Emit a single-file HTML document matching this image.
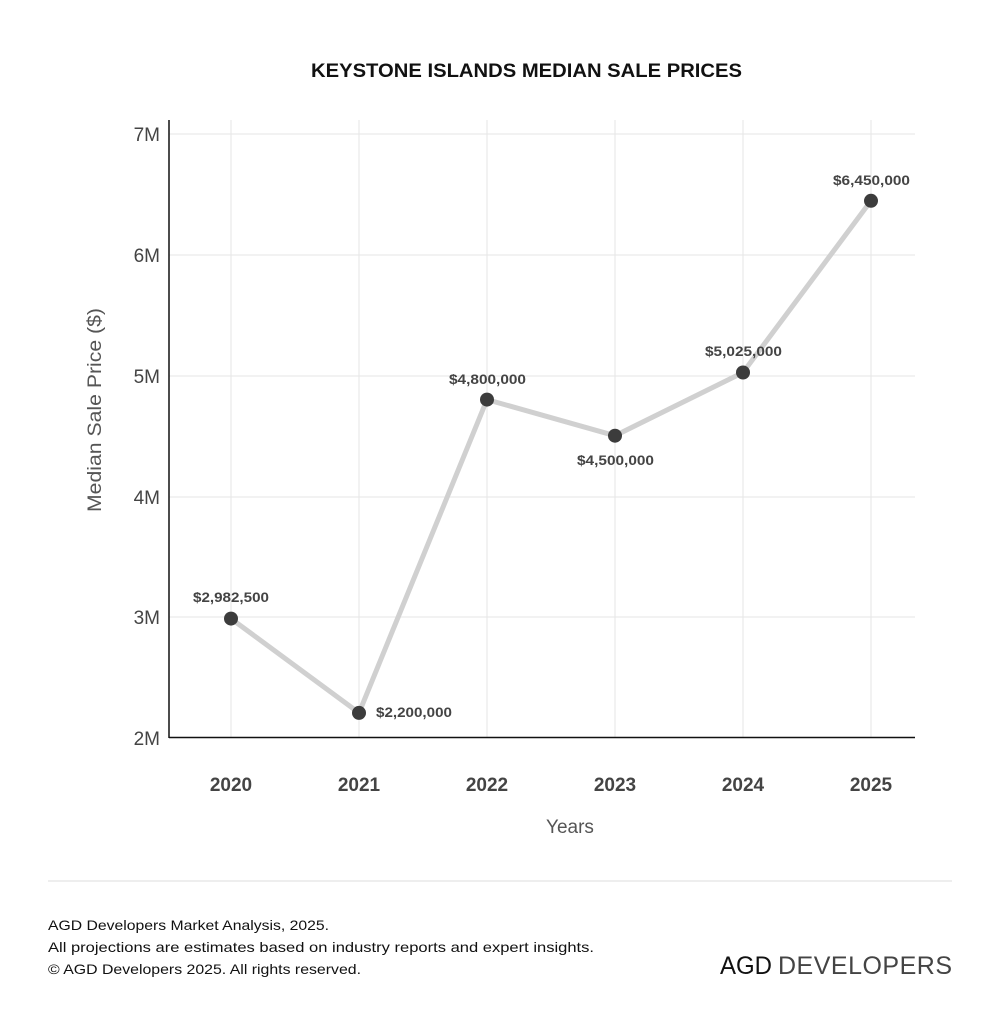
<!DOCTYPE html>
<html><head><meta charset="utf-8"><style>
html,body{margin:0;padding:0;background:#fff;}
body{width:999px;height:1024px;overflow:hidden;font-family:"Liberation Sans",sans-serif;}
</style></head><body>
<svg width="999" height="1024" xmlns="http://www.w3.org/2000/svg" font-family="Liberation Sans, sans-serif">
<text x="311" y="77" textLength="431" lengthAdjust="spacingAndGlyphs" font-size="19" font-weight="bold" fill="#111">KEYSTONE ISLANDS MEDIAN SALE PRICES</text>
<g stroke="#e6e6e6" stroke-width="1">
<line x1="169" y1="134" x2="915" y2="134"/><line x1="169" y1="255" x2="915" y2="255"/>
<line x1="169" y1="376" x2="915" y2="376"/><line x1="169" y1="497" x2="915" y2="497"/>
<line x1="169" y1="617" x2="915" y2="617"/>
<line x1="231" y1="120" x2="231" y2="737"/><line x1="359" y1="120" x2="359" y2="737"/>
<line x1="487" y1="120" x2="487" y2="737"/><line x1="615" y1="120" x2="615" y2="737"/>
<line x1="743" y1="120" x2="743" y2="737"/><line x1="871" y1="120" x2="871" y2="737"/>
</g>
<line x1="169" y1="120" x2="169" y2="738" stroke="#111" stroke-width="1.5"/>
<line x1="169" y1="737.5" x2="915" y2="737.5" stroke="#111" stroke-width="1.5"/>
<g font-size="19" fill="#444" text-anchor="end">
<text x="160" y="141">7M</text><text x="160" y="262">6M</text><text x="160" y="383">5M</text>
<text x="160" y="504">4M</text><text x="160" y="624">3M</text><text x="160" y="745">2M</text>
</g>
<g font-size="19" font-weight="bold" fill="#444" text-anchor="middle">
<text x="231" y="791">2020</text><text x="359" y="791">2021</text><text x="487" y="791">2022</text>
<text x="615" y="791">2023</text><text x="743" y="791">2024</text><text x="871" y="791">2025</text>
</g>
<text x="570" y="833" text-anchor="middle" font-size="19" fill="#555">Years</text>
<text transform="translate(101,410) rotate(-90)" text-anchor="middle" font-size="19" fill="#555" textLength="204" lengthAdjust="spacingAndGlyphs">Median Sale Price ($)</text>
<polyline points="231,618.6 359,712.9 487,399.6 615,435.7 743,372.5 871,200.8" fill="none" stroke="#d0d0d0" stroke-width="5" stroke-linejoin="round"/>
<g fill="#3c3c3c">
<circle cx="231" cy="618.6" r="7"/><circle cx="359" cy="712.9" r="7"/><circle cx="487" cy="399.6" r="7"/>
<circle cx="615" cy="435.7" r="7"/><circle cx="743" cy="372.5" r="7"/><circle cx="871" cy="200.8" r="7"/>
</g>
<g font-size="13.5" font-weight="bold" fill="#444">
<text x="193" y="602" textLength="76" lengthAdjust="spacingAndGlyphs">$2,982,500</text>
<text x="376" y="717" textLength="76" lengthAdjust="spacingAndGlyphs">$2,200,000</text>
<text x="449" y="384" textLength="77" lengthAdjust="spacingAndGlyphs">$4,800,000</text>
<text x="577" y="465" textLength="77" lengthAdjust="spacingAndGlyphs">$4,500,000</text>
<text x="705" y="356" textLength="77" lengthAdjust="spacingAndGlyphs">$5,025,000</text>
<text x="833" y="185" textLength="77" lengthAdjust="spacingAndGlyphs">$6,450,000</text>
</g>
<line x1="48" y1="881" x2="952" y2="881" stroke="#ddd" stroke-width="1"/>
<g font-size="14" fill="#111">
<text x="48" y="930" textLength="281" lengthAdjust="spacingAndGlyphs">AGD Developers Market Analysis, 2025.</text>
<text x="48" y="952" textLength="546" lengthAdjust="spacingAndGlyphs">All projections are estimates based on industry reports and expert insights.</text>
<text x="48" y="974" textLength="313" lengthAdjust="spacingAndGlyphs">© AGD Developers 2025. All rights reserved.</text>
</g>
<text x="720" y="974" font-size="25" fill="#111" textLength="52" lengthAdjust="spacingAndGlyphs">AGD</text>
<text x="778" y="974" font-size="25" fill="#444" textLength="174" lengthAdjust="spacing">DEVELOPERS</text>
</svg>
</body></html>
